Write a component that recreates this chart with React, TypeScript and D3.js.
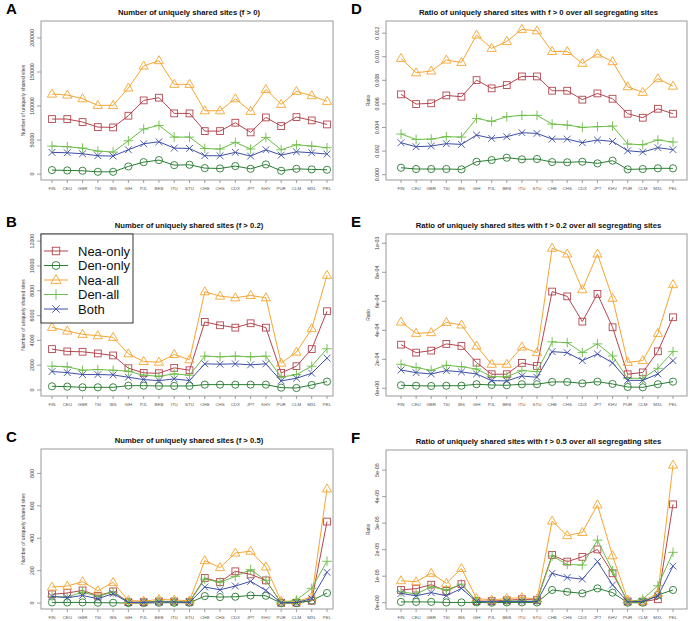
import React from 'react';
import { scaleLinear, scalePoint, line } from 'd3';

// population codes along the x axis
const pops = ['FIN', 'CEU', 'GBR', 'TSI', 'IBS', 'GIH', 'PJL', 'BEB', 'ITU', 'STU', 'CHB', 'CHS', 'CDX', 'JPT', 'KHV', 'PUR', 'CLM', 'MXL', 'PEL'];

const seriesNames = ['Nea-only', 'Den-only', 'Nea-all', 'Den-all', 'Both'];
const seriesColors = ['#b4464f', '#2a7d33', '#f5a531', '#6cbd47', '#3e4fa6'];
const seriesShapes = ['square', 'circle', 'triangle', 'plus', 'cross'];

// A: counts, f > 0
const aNeaOnly = [80900, 80900, 76500, 69100, 68600, 85800, 108300, 112300, 89200, 89200, 63200, 63200, 75500, 61300, 83300, 70600, 83800, 78900, 73000];
const aDenOnly = [5900, 5400, 4900, 3400, 3400, 11300, 17600, 20600, 13200, 13700, 8800, 8300, 11800, 7800, 14200, 4900, 7800, 6900, 6400];
const aNeaAll = [117600, 116200, 110800, 101000, 101000, 126500, 158800, 166700, 131900, 131900, 93100, 93100, 110800, 92200, 124500, 102500, 121600, 115200, 106900];
const aDenAll = [41200, 40200, 38200, 33800, 32400, 49000, 66200, 71600, 54400, 54400, 37700, 36800, 46600, 36800, 53900, 35800, 43100, 41200, 38700];
const aBoth = [31900, 31400, 29900, 27000, 26500, 35800, 44600, 47500, 38200, 37700, 27000, 27000, 31900, 26500, 35800, 27900, 32800, 31400, 29400];

// B: counts, f > 0.2
const bNeaOnly = [3297, 3108, 3081, 2946, 2784, 1757, 1378, 1351, 1784, 1595, 5486, 5216, 5027, 5378, 5027, 1378, 1919, 3297, 6351];
const bDenOnly = [297, 270, 216, 216, 216, 351, 351, 324, 324, 324, 432, 432, 432, 432, 432, 189, 162, 405, 676];
const bNeaAll = [5054, 4757, 4486, 4378, 4243, 2919, 2297, 2243, 2865, 2432, 7919, 7568, 7432, 7622, 7432, 2162, 3054, 4946, 9243];
const bDenAll = [1919, 1865, 1595, 1649, 1595, 1514, 1189, 1108, 1297, 1189, 2730, 2676, 2730, 2676, 2730, 1027, 1243, 1919, 3324];
const bBoth = [1486, 1405, 1243, 1243, 1216, 1027, 838, 757, 892, 757, 2108, 2081, 2108, 2027, 2108, 730, 946, 1351, 2568];

// C: counts, f > 0.5
const cNeaOnly = [54, 62, 78, 45, 72, 6, 6, 10, 10, 8, 155, 130, 196, 177, 140, 2, 2, 14, 503];
const cDenOnly = [4, 4, 4, 2, 2, 0, 0, 2, 2, 2, 43, 37, 39, 47, 45, 0, 0, 16, 62];
const cNeaAll = [99, 105, 132, 76, 128, 16, 12, 23, 19, 14, 262, 219, 309, 320, 223, 12, 10, 37, 705];
const cDenAll = [41, 37, 68, 41, 68, 4, 4, 12, 8, 6, 148, 128, 165, 206, 140, 2, 19, 91, 258];
const cBoth = [41, 33, 47, 27, 58, 4, 4, 8, 6, 4, 99, 82, 105, 134, 78, 2, 4, 27, 190];

// D: ratio, f > 0
const dNeaOnly = [6.81e-3, 5.99e-3, 6.05e-3, 6.72e-3, 6.61e-3, 8.02e-3, 7.32e-3, 7.6e-3, 8.33e-3, 8.33e-3, 7.12e-3, 7.12e-3, 6.36e-3, 6.89e-3, 6.44e-3, 5.17e-3, 4.83e-3, 5.59e-3, 5.17e-3];
const dDenOnly = [0.59e-3, 0.48e-3, 0.48e-3, 0.48e-3, 0.45e-3, 1.1e-3, 1.24e-3, 1.44e-3, 1.3e-3, 1.33e-3, 1.07e-3, 1.05e-3, 1.1e-3, 0.96e-3, 1.19e-3, 0.45e-3, 0.48e-3, 0.54e-3, 0.54e-3];
const dNeaAll = [9.86e-3, 8.64e-3, 8.79e-3, 9.72e-3, 9.52e-3, 11.84e-3, 10.71e-3, 11.3e-3, 12.32e-3, 12.2e-3, 10.45e-3, 10.45e-3, 9.44e-3, 10.23e-3, 9.58e-3, 7.46e-3, 6.98e-3, 8.14e-3, 7.51e-3];
const dDenAll = [3.45e-3, 2.99e-3, 3.02e-3, 3.22e-3, 3.19e-3, 4.77e-3, 4.52e-3, 4.92e-3, 5.03e-3, 5.03e-3, 4.29e-3, 4.21e-3, 4.01e-3, 4.07e-3, 4.12e-3, 2.6e-3, 2.54e-3, 2.94e-3, 2.77e-3];
const dBoth = [2.71e-3, 2.37e-3, 2.43e-3, 2.63e-3, 2.57e-3, 3.36e-3, 3.08e-3, 3.22e-3, 3.56e-3, 3.5e-3, 3.02e-3, 3.02e-3, 2.71e-3, 2.94e-3, 2.82e-3, 2.03e-3, 1.92e-3, 2.29e-3, 2.12e-3];

// E: ratio, f > 0.2
const eNeaOnly = [3.01e-4, 2.46e-4, 2.6e-4, 3.06e-4, 2.92e-4, 1.77e-4, 0.97e-4, 0.97e-4, 1.75e-4, 1.54e-4, 6.67e-4, 6.34e-4, 4.6e-4, 6.51e-4, 4.21e-4, 0.97e-4, 1.1e-4, 2.55e-4, 4.9e-4];
const eDenOnly = [0.21e-4, 0.18e-4, 0.16e-4, 0.18e-4, 0.18e-4, 0.28e-4, 0.23e-4, 0.21e-4, 0.28e-4, 0.28e-4, 0.44e-4, 0.44e-4, 0.34e-4, 0.46e-4, 0.3e-4, 0.09e-4, 0.07e-4, 0.28e-4, 0.46e-4];
const eNeaAll = [4.57e-4, 3.79e-4, 3.84e-4, 4.55e-4, 4.37e-4, 2.92e-4, 1.66e-4, 1.66e-4, 2.85e-4, 2.46e-4, 9.66e-4, 9.26e-4, 6.8e-4, 9.26e-4, 6.21e-4, 1.79e-4, 1.91e-4, 3.79e-4, 7.15e-4];
const eDenAll = [1.66e-4, 1.43e-4, 1.24e-4, 1.59e-4, 1.49e-4, 1.33e-4, 0.8e-4, 0.8e-4, 1.22e-4, 1.15e-4, 3.2e-4, 3.15e-4, 2.46e-4, 3.06e-4, 2.23e-4, 0.69e-4, 0.69e-4, 1.38e-4, 2.53e-4];
const eBoth = [1.26e-4, 1.08e-4, 0.99e-4, 1.22e-4, 1.13e-4, 0.99e-4, 0.53e-4, 0.51e-4, 0.85e-4, 0.76e-4, 2.53e-4, 2.46e-4, 1.91e-4, 2.37e-4, 1.75e-4, 0.55e-4, 0.55e-4, 0.99e-4, 1.91e-4];

// F: ratio, f > 0.5
const fNeaOnly = [0.48e-5, 0.53e-5, 0.68e-5, 0.44e-5, 0.7e-5, 0.06e-5, 0.06e-5, 0.09e-5, 0.13e-5, 0.1e-5, 1.8e-5, 1.55e-5, 1.73e-5, 2.01e-5, 1.11e-5, 0.05e-5, 0.04e-5, 0.13e-5, 3.71e-5];
const fDenOnly = [0.03e-5, 0.03e-5, 0.03e-5, 0.01e-5, 0.01e-5, 0.01e-5, 0, 0.01e-5, 0.01e-5, 0.01e-5, 0.48e-5, 0.41e-5, 0.35e-5, 0.54e-5, 0.38e-5, 0, 0, 0.29e-5, 0.48e-5];
const fNeaAll = [0.83e-5, 0.79e-5, 1.11e-5, 0.73e-5, 1.29e-5, 0.16e-5, 0.1e-5, 0.16e-5, 0.19e-5, 0.14e-5, 3.08e-5, 2.53e-5, 2.65e-5, 3.69e-5, 1.77e-5, 0.1e-5, 0.06e-5, 0.35e-5, 5.19e-5];
const fDenAll = [0.41e-5, 0.33e-5, 0.6e-5, 0.48e-5, 0.7e-5, 0.05e-5, 0.03e-5, 0.06e-5, 0.06e-5, 0.05e-5, 1.76e-5, 1.44e-5, 1.42e-5, 2.36e-5, 1.21e-5, 0.01e-5, 0.14e-5, 0.64e-5, 1.9e-5];
const fBoth = [0.35e-5, 0.26e-5, 0.38e-5, 0.26e-5, 0.54e-5, 0.04e-5, 0.03e-5, 0.05e-5, 0.05e-5, 0.04e-5, 1.11e-5, 0.95e-5, 0.89e-5, 1.55e-5, 0.67e-5, 0.03e-5, 0.05e-5, 0.25e-5, 1.38e-5];

const FONT = 'Liberation Sans, Arial, Helvetica, sans-serif';

const sciFormat = (v: number) => {
  if (v === 0) return '0e+00';
  const e = Math.floor(Math.log10(v) + 1e-9);
  const m = Math.round(v / Math.pow(10, e));
  const sign = e < 0 ? '-' : '+';
  return `${m}e${sign}${String(Math.abs(e)).padStart(2, '0')}`;
};

const panels = [
  {
    letter: 'A', title: 'Number of uniquely shared sites (f > 0)', ylab: 'Number of uniquely shared sites',
    box: [41, 21, 333, 180], pts: [52, 327], domain: [-8650, 224950],
    ticks: [0, 50000, 100000, 150000, 200000], fmt: (v: number) => String(v),
    data: [aNeaOnly, aDenOnly, aNeaAll, aDenAll, aBoth], legend: false,
  },
  {
    letter: 'B', title: 'Number of uniquely shared sites (f > 0.2)', ylab: 'Number of uniquely shared sites',
    box: [41, 234, 333, 396], pts: [52, 327], domain: [-484, 12575],
    ticks: [0, 2000, 4000, 6000, 8000, 10000, 12000], fmt: (v: number) => String(v),
    data: [bNeaOnly, bDenOnly, bNeaAll, bDenAll, bBoth], legend: true,
  },
  {
    letter: 'C', title: 'Number of uniquely shared sites (f > 0.5)', ylab: 'Number of uniquely shared sites',
    box: [41, 449, 333, 609], pts: [52, 327], domain: [-36.6, 951],
    ticks: [0, 200, 400, 600, 800], fmt: (v: number) => String(v),
    data: [cNeaOnly, cDenOnly, cNeaAll, cDenAll, cBoth], legend: false,
  },
  {
    letter: 'D', title: 'Ratio of uniquely shared sites with f > 0 over all segregating sites', ylab: 'Ratio',
    box: [386, 21, 687, 180], pts: [401, 673], domain: [-0.00045, 0.01303],
    ticks: [0, 0.002, 0.004, 0.006, 0.008, 0.01, 0.012], fmt: (v: number) => v.toFixed(3),
    data: [dNeaOnly, dDenOnly, dNeaAll, dDenAll, dBoth], legend: false,
  },
  {
    letter: 'E', title: 'Ratio of uniquely shared sites with f > 0.2 over all segregating sites', ylab: 'Ratio',
    box: [386, 234, 687, 396], pts: [401, 673], domain: [-5.3e-5, 1.064e-3],
    ticks: [0, 2e-4, 4e-4, 6e-4, 8e-4, 1e-3], fmt: sciFormat,
    data: [eNeaOnly, eDenOnly, eNeaAll, eDenAll, eBoth], legend: false,
  },
  {
    letter: 'F', title: 'Ratio of uniquely shared sites with f > 0.5 over all segregating sites', ylab: 'Ratio',
    box: [386, 450, 687, 609], pts: [401, 673], domain: [-2.38e-6, 5.76e-5],
    ticks: [0, 1e-5, 2e-5, 3e-5, 4e-5, 5e-5], fmt: sciFormat,
    data: [fNeaOnly, fDenOnly, fNeaAll, fDenAll, fBoth], legend: false,
  },
];

const Marker = ({ shape, x, y, color, s = 1 }: { shape: string; x: number; y: number; color: string; s?: number }) => {
  const common = { fill: 'none', stroke: color, strokeWidth: 0.9 };
  if (shape === 'square') {
    const h = 3.4 * s;
    return <rect x={x - h} y={y - h} width={2 * h} height={2 * h} {...common} />;
  }
  if (shape === 'circle') return <circle cx={x} cy={y} r={3.6 * s} {...common} />;
  if (shape === 'triangle') {
    const w = 4.6 * s;
    const h = 8 * s;
    return <path d={`M${x},${y - h * 0.62}L${x + w},${y + h * 0.38}L${x - w},${y + h * 0.38}Z`} {...common} />;
  }
  if (shape === 'plus') {
    const a = 4.8 * s;
    return <path d={`M${x - a},${y}H${x + a}M${x},${y - a}V${y + a}`} {...common} />;
  }
  const a = 3.4 * s;
  return <path d={`M${x - a},${y - a}L${x + a},${y + a}M${x - a},${y + a}L${x + a},${y - a}`} {...common} />;
};

const Panel = ({ p }: { p: (typeof panels)[number] }) => {
  const [x0, y0, x1, y1] = p.box;
  const x = scalePoint<string>().domain(pops).range(p.pts as [number, number]);
  const y = scaleLinear().domain(p.domain).range([y1, y0]);
  const path = line<number>()
    .x((_, i) => x(pops[i]) as number)
    .y((d) => y(d));
  const cx = (x0 + x1) / 2;
  const cy = (y0 + y1) / 2;
  return (
    <g>
      <text x={x0 - 35} y={y0 - 7} fontFamily={FONT} fontWeight="bold" fontSize={15}>
        {p.letter}
      </text>
      <text x={cx + 2} y={y0 - 6.5} fontFamily={FONT} fontWeight="bold" fontSize={7.7} textAnchor="middle" fill="#111">
        {p.title}
      </text>
      <rect x={x0} y={y0} width={x1 - x0} height={y1 - y0} fill="none" stroke="#9a9a9a" strokeWidth={1} />
      {p.ticks.map((t) => (
        <g key={t}>
          <line x1={x0 - 4} x2={x0} y1={y(t)} y2={y(t)} stroke="#888" strokeWidth={0.8} />
          <text
            transform={`translate(${x0 - 7},${y(t)}) rotate(-90)`}
            textAnchor="middle"
            fontFamily={FONT}
            fontSize={5.3}
            fill="#444"
          >
            {p.fmt(t)}
          </text>
        </g>
      ))}
      <text
        transform={`translate(${x0 - 16},${cy}) rotate(-90)`}
        textAnchor="middle"
        fontFamily={FONT}
        fontSize={5}
        fill="#444"
      >
        {p.ylab}
      </text>
      {pops.map((c) => (
        <g key={c}>
          <line x1={x(c)} x2={x(c)} y1={y1} y2={y1 + 3} stroke="#888" strokeWidth={0.8} />
          <text x={x(c)} y={y1 + 9.5} textAnchor="middle" fontFamily={FONT} fontSize={4.4} fill="#555">
            {c}
          </text>
        </g>
      ))}
      {p.data.map((vals, si) => (
        <g key={si}>
          <path d={path(vals) || ''} fill="none" stroke={seriesColors[si]} strokeWidth={1} />
          {vals.map((v, i) => (
            <Marker key={i} shape={seriesShapes[si]} x={x(pops[i]) as number} y={y(v)} color={seriesColors[si]} />
          ))}
        </g>
      ))}
      {p.legend && (
        <g>
          <rect x={x0} y={y0} width={92} height={89} fill="white" stroke="#222" strokeWidth={0.9} />
          {seriesNames.map((n, i) => {
            const ly = y0 + 17 + i * 14.5;
            return (
              <g key={n}>
                <line x1={x0 + 3} x2={x0 + 27} y1={ly} y2={ly} stroke={seriesColors[i]} strokeWidth={1} />
                <Marker shape={seriesShapes[i]} x={x0 + 15} y={ly} color={seriesColors[i]} s={1.1} />
                <text x={x0 + 37} y={ly + 4.5} fontFamily={FONT} fontSize={13} fill="#111">
                  {n}
                </text>
              </g>
            );
          })}
        </g>
      )}
    </g>
  );
};

export default function App() {
  return (
    <svg
      width={690}
      height={621}
      style={{ position: 'absolute', left: 0, top: 0, background: 'white' }}
    >
      <rect width={690} height={621} fill="white" />
      {panels.map((p) => (
        <Panel key={p.letter} p={p} />
      ))}
    </svg>
  );
}
